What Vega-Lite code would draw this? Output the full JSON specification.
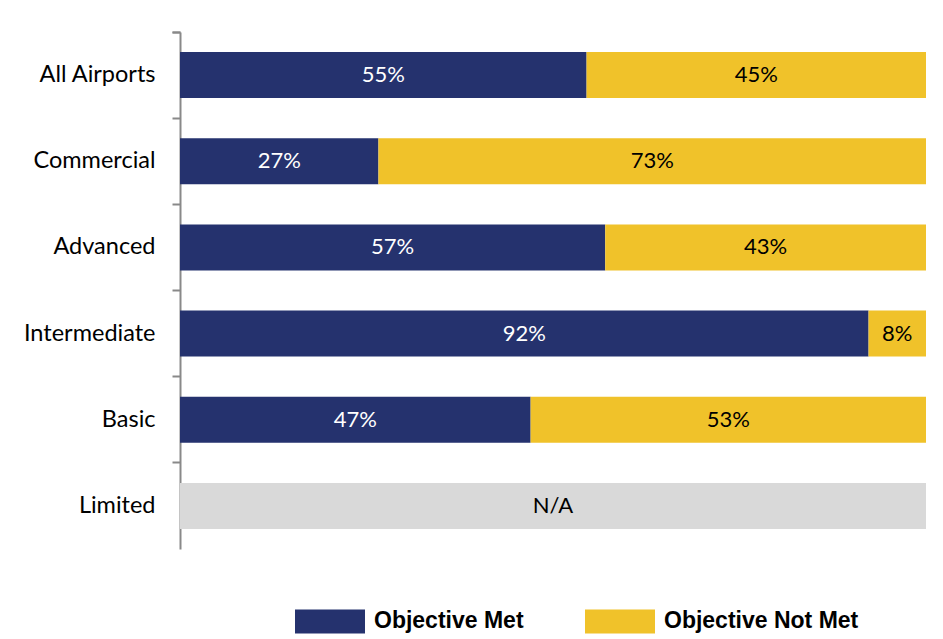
{
  "$schema": "https://vega.github.io/schema/vega-lite/v6.json",
  "autosize": "none",
  "width": 746,
  "height": 517,
  "padding": {"left": 180, "top": 32, "right": 17, "bottom": 90},
  "background": "white",
  "config": {"view": {"stroke": null}},
  "data": {
    "values": [
      {"category": "All Airports", "status": "Objective Met", "value": 0.545, "label": "55%", "ord": 1},
      {"category": "All Airports", "status": "Objective Not Met", "value": 0.455, "label": "45%", "ord": 2},
      {"category": "Commercial", "status": "Objective Met", "value": 0.266, "label": "27%", "ord": 1},
      {"category": "Commercial", "status": "Objective Not Met", "value": 0.734, "label": "73%", "ord": 2},
      {"category": "Advanced", "status": "Objective Met", "value": 0.570, "label": "57%", "ord": 1},
      {"category": "Advanced", "status": "Objective Not Met", "value": 0.430, "label": "43%", "ord": 2},
      {"category": "Intermediate", "status": "Objective Met", "value": 0.923, "label": "92%", "ord": 1},
      {"category": "Intermediate", "status": "Objective Not Met", "value": 0.077, "label": "8%", "ord": 2},
      {"category": "Basic", "status": "Objective Met", "value": 0.470, "label": "47%", "ord": 1},
      {"category": "Basic", "status": "Objective Not Met", "value": 0.530, "label": "53%", "ord": 2},
      {"category": "Limited", "status": "N/A", "value": 1.0, "label": "N/A", "ord": 3}
    ]
  },
  "encoding": {
    "y": {
      "field": "category",
      "type": "nominal",
      "sort": ["All Airports", "Commercial", "Advanced", "Intermediate", "Basic", "Limited"],
      "scale": {"paddingInner": 0, "paddingOuter": 0},
      "axis": {
        "title": null,
        "bandPosition": 0,
        "tickExtra": true,
        "tickSize": 8,
        "tickColor": "#898989",
        "tickWidth": 2,
        "domainColor": "#898989",
        "domainWidth": 2,
        "labelFont": "Lato",
        "labelFontSize": 23.5,
        "labelColor": "#000000",
        "labelPadding": 17
      }
    }
  },
  "layer": [
    {
      "mark": {"type": "bar", "height": {"band": 0.534}},
      "encoding": {
        "x": {"field": "value", "type": "quantitative", "stack": "zero", "scale": {"domain": [0, 1]}, "axis": null},
        "order": {"field": "ord", "type": "quantitative"},
        "color": {
          "field": "status",
          "type": "nominal",
          "scale": {"domain": ["Objective Met", "Objective Not Met", "N/A"], "range": ["#25326E", "#F0C22A", "#D9D9D9"]},
          "legend": {
            "title": null,
            "values": ["Objective Met", "Objective Not Met"],
            "orient": "none",
            "direction": "horizontal",
            "columns": 2,
            "legendX": 115,
            "legendY": 554,
            "symbolType": "M-1,-0.343H1V0.343H-1Z",
            "symbolSize": 4900,
            "symbolStrokeWidth": 0,
            "symbolOpacity": 1,
            "labelFont": "Liberation Sans",
            "labelFontWeight": "bold",
            "labelFontSize": 23,
            "labelColor": "#000000",
            "labelOffset": 9,
            "columnPadding": 61,
            "labelLimit": 400
          }
        }
      }
    },
    {
      "mark": {"type": "text", "font": "Lato", "fontSize": 22, "align": "center", "baseline": "middle"},
      "encoding": {
        "x": {"field": "value", "type": "quantitative", "stack": "zero", "bandPosition": 0.5},
        "order": {"field": "ord", "type": "quantitative"},
        "detail": {"field": "status"},
        "text": {"field": "label"},
        "fill": {"condition": {"test": "datum.status === 'Objective Met'", "value": "#FFFFFF"}, "value": "#000000"}
      }
    }
  ]
}
